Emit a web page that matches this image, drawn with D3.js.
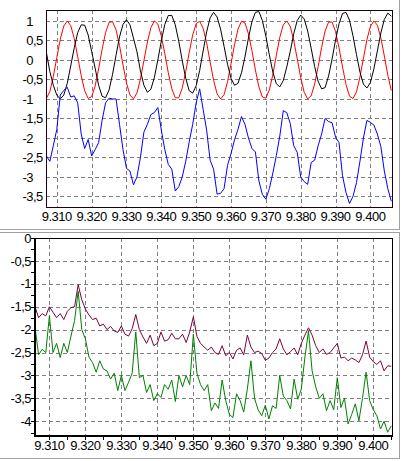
<!DOCTYPE html>
<html>
<head>
<meta charset="utf-8">
<script src="https://cdn.jsdelivr.net/npm/d3@7"></script>
<style>
body { margin: 0; background: #fff; }
text { font-family: "Liberation Sans", Arial, sans-serif; font-size: 13px; letter-spacing: -0.5px; fill: #000; }
</style>
</head>
<body>
<svg id="chart" width="405" height="461"></svg>
<script>
// sampling of both recordings
const topStart = 9.307
const bottomStart = 9.306
const step = 0.001

// upper panel
const redSignal = [-0.99,-0.81,-0.43,0.06,0.53,0.87,1.0,0.88,0.55,0.08,-0.4,-0.79,-0.99,-0.94,-0.67,-0.23,0.27,0.7,0.96,0.98,
  0.77,0.37,-0.13,-0.59,-0.9,-1.0,-0.85,-0.49,-0.02,0.46,0.83,1.0,0.92,0.61,0.16,-0.33,-0.74,-0.97,-0.97,-0.72,
  -0.3,0.19,0.64,0.93,0.99,0.81,0.44,-0.05,-0.52,-0.87,-1.0,-0.89,-0.56,-0.1,0.39,0.79,0.99,0.95,0.67,0.24,
  -0.26,-0.69,-0.95,-0.98,-0.77,-0.38,0.12,0.58,0.9,1.0,0.86,0.5,0.03,-0.45,-0.83,-1.0,-0.92,-0.62,-0.17,0.32,
  0.74,0.97,0.97,0.73,0.31,-0.18,-0.63,-0.93,-0.99,-0.82,-0.44,0.04,0.52,0.86,1.0,0.89,0.57,0.1,-0.39,-0.78]
const blackSignal = [0.2,-0.3,-0.65,-0.9,-1.0,-0.9,-0.6,-0.15,0.31,0.7,0.9,0.89,0.64,0.22,-0.21,-0.65,-0.93,-0.97,-0.77,-0.37,
  0.12,0.59,0.91,1.03,0.9,0.56,0.21,-0.28,-0.65,-0.83,-0.75,-0.45,0.0,0.49,0.91,1.14,1.14,0.9,0.48,-0.02,
  -0.47,-0.79,-0.85,-0.66,-0.27,0.23,0.72,1.08,1.22,1.1,0.79,0.35,-0.11,-0.47,-0.65,-0.6,-0.33,0.08,0.56,0.98,
  1.22,1.24,1.01,0.61,0.13,-0.31,-0.61,-0.69,-0.53,-0.18,0.22,0.67,1.01,1.15,1.05,0.74,0.3,-0.17,-0.55,-0.74,
  -0.71,-0.41,0.02,0.51,0.93,1.19,1.22,1.02,0.62,0.14,-0.31,-0.62,-0.72,-0.58,-0.23,0.23,0.69,1.04,1.2,1.12]
const blueSignal = [-2.46,-2.6,-2.2,-1.78,-0.9,-0.78,-0.7,-0.95,-0.92,-1.1,-1.9,-2.27,-2.04,-2.46,-2.3,-2.12,-1.55,-1.1,-0.98,-1.0,
  -1.0,-1.65,-2.3,-2.78,-2.85,-3.2,-3.0,-2.5,-1.85,-1.65,-1.4,-1.35,-1.22,-1.8,-2.3,-2.68,-2.8,-3.36,-3.25,-3.0,
  -2.6,-2.1,-1.65,-1.1,-0.74,-1.27,-1.8,-2.57,-2.8,-3.44,-3.42,-3.3,-2.7,-2.4,-2.05,-1.78,-1.45,-1.65,-2.0,-2.27,
  -2.36,-3.1,-3.45,-3.57,-3.3,-2.9,-2.45,-1.95,-1.3,-1.35,-1.63,-2.2,-2.37,-3.0,-3.12,-3.19,-2.63,-2.57,-2.2,-1.9,
  -1.5,-1.58,-1.61,-1.98,-2.12,-2.97,-3.4,-3.68,-3.5,-3.15,-2.6,-2.0,-1.55,-1.6,-1.67,-1.9,-2.22,-2.85,-3.3,-3.62]

// lower panel
const purpleSignal = [-1.5,-1.74,-1.65,-1.7,-1.5,-1.62,-1.74,-1.65,-1.78,-1.6,-1.52,-1.5,-1.02,-1.35,-1.55,-1.68,-1.78,-1.75,-1.92,-1.88,
  -2.0,-1.93,-2.03,-2.06,-1.92,-2.1,-2.14,-1.98,-1.67,-2.0,-2.16,-2.3,-2.12,-2.35,-2.3,-2.05,-2.25,-2.22,-2.08,-2.2,
  -2.2,-2.1,-2.28,-2.05,-1.72,-2.15,-2.3,-2.38,-2.45,-2.38,-2.5,-2.54,-2.35,-2.57,-2.5,-2.64,-2.45,-2.4,-2.55,-2.12,
  -2.38,-2.5,-2.47,-2.52,-2.67,-2.62,-2.5,-2.42,-2.2,-2.42,-2.55,-2.48,-2.4,-2.55,-2.3,-2.12,-1.96,-2.12,-2.35,-2.5,
  -2.42,-2.54,-2.5,-2.4,-2.3,-2.62,-2.6,-2.68,-2.62,-2.66,-2.72,-2.55,-2.25,-2.6,-2.7,-2.76,-2.68,-2.9,-2.79,-2.8]
const greenSignal = [-1.95,-2.55,-2.43,-2.5,-1.7,-2.5,-2.3,-2.61,-2.3,-2.5,-2.14,-1.8,-1.16,-2.0,-2.2,-2.6,-2.72,-2.93,-2.68,-2.86,
  -2.9,-3.08,-2.95,-3.33,-3.0,-3.33,-3.15,-2.95,-2.05,-3.05,-3.0,-3.37,-3.2,-3.55,-3.4,-3.48,-3.2,-3.3,-3.1,-3.57,
  -3.0,-3.25,-3.0,-3.2,-2.1,-2.95,-3.2,-3.33,-3.2,-3.77,-3.6,-3.72,-3.1,-3.55,-3.85,-3.92,-3.4,-3.55,-3.8,-3.3,
  -2.68,-3.5,-3.75,-3.88,-3.65,-3.95,-3.66,-3.72,-3.0,-3.45,-3.55,-3.73,-3.08,-3.52,-3.3,-2.6,-2.03,-2.9,-3.25,-3.5,
  -3.4,-3.77,-3.55,-3.75,-3.05,-3.7,-3.5,-4.06,-3.85,-3.62,-3.99,-3.5,-2.93,-3.55,-3.75,-3.88,-4.17,-4.0,-4.24,-4.1]

const timeTicks = [9.31, 9.32, 9.33, 9.34, 9.35, 9.36, 9.37, 9.38, 9.39, 9.40]
const topValueTicks = [1, 0.5, 0, -0.5, -1, -1.5, -2, -2.5, -3, -3.5]
const bottomValueTicks = [0, -0.5, -1, -1.5, -2, -2.5, -3, -3.5, -4]

const svg = d3.select("#chart")
const comma = d3.formatLocale({decimal: ",", thousands: ".", grouping: [3], currency: ["", ""], minus: "-"}).format("~g")
const timeFmt = d3.format(".3f")

function drawPanel(opt) {
    const x = d3.scaleLinear().domain(opt.xDomain).range([opt.left, opt.right])
    const y = d3.scaleLinear().domain(opt.yDomain).range([opt.bottom, opt.top])
    const g = svg.append("g")

    g.append("clipPath").attr("id", opt.id)
        .append("rect")
        .attr("x", opt.left).attr("y", opt.top)
        .attr("width", opt.right - opt.left).attr("height", opt.bottom - opt.top)

    const grid = g.append("g")
        .attr("stroke", "#808080")
        .attr("stroke-dasharray", "4,3")
        .attr("shape-rendering", "crispEdges")
    grid.selectAll(".v").data(timeTicks).join("line")
        .attr("x1", d => Math.round(x(d)) + 0.5).attr("x2", d => Math.round(x(d)) + 0.5)
        .attr("y1", opt.top).attr("y2", opt.bottom)
    grid.selectAll(".h").data(opt.yTicks.filter(v => y(v) > opt.top + 2)).join("line")
        .attr("y1", d => Math.round(y(d)) + 0.5).attr("y2", d => Math.round(y(d)) + 0.5)
        .attr("x1", opt.left).attr("x2", opt.right)

    const line = d3.line()
        .x((d, i) => x(opt.start + i * step))
        .y(d => y(d))
    const traces = g.append("g").attr("clip-path", `url(#${opt.id})`)
    opt.series.forEach(s => {
        traces.append("path")
            .datum(s.values)
            .attr("fill", "none")
            .attr("stroke", s.color)
            .attr("stroke-width", 1)
            .attr("d", line)
    })

    // plot frame
    g.append("rect")
        .attr("x", opt.left + 0.5).attr("y", opt.top + 0.5)
        .attr("width", opt.right - opt.left).attr("height", opt.bottom - opt.top)
        .attr("fill", "none").attr("stroke", opt.frameColor)
        .attr("shape-rendering", "crispEdges")

    g.selectAll(".xl").data(timeTicks).join("text")
        .attr("x", d => x(d))
        .attr("y", opt.labelY)
        .attr("text-anchor", "middle")
        .text(d => timeFmt(d))

    return {x, y, g}
}

// upper panel
const upper = drawPanel({
    id: "clipTop", left: 46, right: 392, top: 10, bottom: 207,
    xDomain: [9.3069, 9.4062], yDomain: [-3.77, 1.28], start: topStart,
    yTicks: topValueTicks, labelY: 221, frameColor: "#200010",
    series: [
        {values: redSignal, color: "#ff0000"},
        {values: blackSignal, color: "#000000"},
        {values: blueSignal, color: "#0000ff"}
    ]
})
// labels aligned on the decimal comma
topValueTicks.forEach(v => {
    const parts = comma(v).split(",")
    const yy = upper.y(v)
    upper.g.append("text").attr("x", 33).attr("y", yy).attr("dy", "0.36em")
        .attr("text-anchor", "end").text(parts[0])
    if (parts[1]) upper.g.append("text").attr("x", 33).attr("y", yy).attr("dy", "0.36em")
        .text("," + parts[1])
})

// lower panel
const lower = drawPanel({
    id: "clipBottom", left: 35, right: 392, top: 238, bottom: 435,
    xDomain: [9.3060, 9.4052], yDomain: [-4.3, 0], start: bottomStart,
    yTicks: bottomValueTicks, labelY: 450, frameColor: "#000000",
    series: [
        {values: purpleSignal, color: "#800040"},
        {values: greenSignal, color: "#008000"}
    ]
})
lower.g.selectAll(".yl").data(bottomValueTicks).join("text")
    .attr("x", 31).attr("y", d => lower.y(d)).attr("dy", "0.36em")
    .attr("text-anchor", "end")
    .text(d => comma(d))

// heavier axes and minor ticks of the lower panel
lower.g.append("line").attr("x1", 35).attr("x2", 35).attr("y1", 238).attr("y2", 437)
    .attr("stroke", "#000").attr("stroke-width", 2)
lower.g.append("line").attr("x1", 34).attr("x2", 393).attr("y1", 436).attr("y2", 436)
    .attr("stroke", "#000").attr("stroke-width", 2)
const minorY = d3.range(0, -4.31, -0.25)
lower.g.selectAll(".my").data(minorY).join("line")
    .attr("x1", 31).attr("x2", 34)
    .attr("y1", d => Math.round(lower.y(d)) + 0.5).attr("y2", d => Math.round(lower.y(d)) + 0.5)
    .attr("stroke", "#000").attr("shape-rendering", "crispEdges")
const minorX = d3.range(9.31, 9.4051, 0.005)
lower.g.selectAll(".mx").data(minorX).join("line")
    .attr("x1", d => Math.round(lower.x(d)) + 0.5).attr("x2", d => Math.round(lower.x(d)) + 0.5)
    .attr("y1", 437).attr("y2", 440)
    .attr("stroke", "#000").attr("shape-rendering", "crispEdges")

// panel frames
const frames = svg.append("g").attr("fill", "none").attr("stroke", "#a0a0a0")
    .attr("shape-rendering", "crispEdges")
frames.append("path").attr("d", "M399.5,0V229.5H0")
frames.append("path").attr("d", "M0,232.5H399.5V458.5H0")
</script>
</body>
</html>
